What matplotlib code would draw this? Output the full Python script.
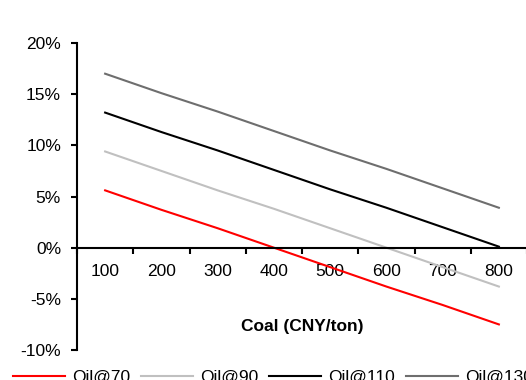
import matplotlib
matplotlib.use("Agg")
import matplotlib.pyplot as plt
import numpy as np
from matplotlib.ticker import FuncFormatter

plt.rcParams['font.family'] = ['Liberation Sans', 'DejaVu Sans']

# Prix du charbon (CNY/ton)
charbon = [100, 200, 300, 400, 500, 600, 700, 800]

# Valeurs (%)
oil_70 = [5.6, 3.7, 1.9, 0.0, -1.9, -3.8, -5.6, -7.5]
oil_90 = [9.4, 7.5, 5.6, 3.8, 1.9, 0.0, -1.9, -3.8]
oil_110 = [13.2, 11.3, 9.5, 7.6, 5.7, 3.9, 2.0, 0.1]
oil_130 = [17.0, 15.1, 13.3, 11.4, 9.5, 7.7, 5.8, 3.9]

series = [("Oil@70", oil_70, "#ff0000"),
          ("Oil@90", oil_90, "#c0c0c0"),
          ("Oil@110", oil_110, "#000000"),
          ("Oil@130", oil_130, "#6e6e6e")]

fig = plt.figure(figsize=(5.26, 3.8), dpi=100)
ax = fig.add_axes([77/526, 30/380, 450/526, 307/380])

x = np.arange(len(charbon))
for nom, vals, couleur in series:
    ax.plot(x, vals, color=couleur, lw=1.5, label=nom)

ax.set_xlim(-0.5, len(charbon) - 0.5)
ax.set_ylim(-10, 20)
ax.set_yticks([-10, -5, 0, 5, 10, 15, 20])
ax.yaxis.set_major_formatter(FuncFormatter(lambda v, p: f"{v:.0f}%"))

# axe des x sur la ligne 0
ax.spines['bottom'].set_position(('data', 0))
ax.spines['top'].set_visible(False)
ax.spines['right'].set_visible(False)
for s in ['left', 'bottom']:
    ax.spines[s].set_linewidth(1.5)

ax.set_xticks(x)
ax.set_xticklabels([str(c) for c in charbon])
ax.set_xticks(np.arange(-0.5, len(charbon)), minor=True)
ax.tick_params(axis='x', which='major', length=0, pad=12, labelsize=12.5)
ax.tick_params(axis='x', which='minor', length=4, width=1.5, direction='out')
ax.tick_params(axis='y', length=4.5, width=1.5, pad=7, labelsize=12.5)

ax.text(0.5, (380 - 327 - 30) / 307, "Coal (CNY/ton)", transform=ax.transAxes,
        ha='center', va='center', fontsize=12.5, fontweight='bold')

# Légende en bas, coupée par le bord comme dans l'original
fig.legend(loc='center left', bbox_to_anchor=(13/526, 3/380), ncol=4,
           frameon=False, fontsize=12.5, handlelength=3.0,
           handletextpad=0.4, columnspacing=0.63, borderaxespad=0,
           borderpad=0)

fig.savefig("out.png", dpi=100)
